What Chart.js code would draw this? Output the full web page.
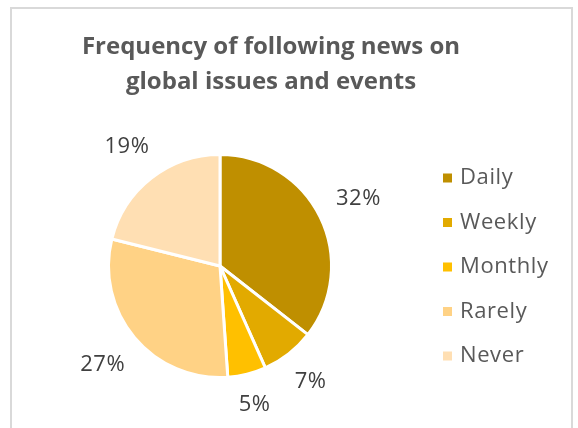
<!DOCTYPE html>
<html>
<head>
<meta charset="utf-8">
<script src="https://cdn.jsdelivr.net/npm/chart.js@4/dist/chart.umd.min.js"></script>
<style>
  html, body { margin: 0; padding: 0; background: #fff; overflow: hidden; }
  #frame {
    position: absolute; left: 10px; top: 7px; width: 563px; height: 440px;
    border: 2px solid #d9d9d9; box-sizing: border-box;
  }
  #myChart { position: absolute; left: 0; top: 0; }
</style>
</head>
<body>
<div id="frame"></div>
<canvas id="myChart" width="578" height="428"></canvas>
<script>
var categories = ['Daily', 'Weekly', 'Monthly', 'Rarely', 'Never'];
var shares = [32, 7, 5, 27, 19];
var sliceColors = ['#bf8f00', '#e2aa00', '#ffc000', '#ffd285', '#ffdfb3'];
var titleLines = ['Frequency of following news on', 'global issues and events'];

var FONT = "'Open Sans', 'Noto Sans', sans-serif";

// percentage labels placed just outside each slice
var outsideLabels = {
    id: 'outsideLabels',
    afterDatasetsDraw: function(chart) {
        var ctx = chart.ctx;
        var meta = chart.getDatasetMeta(0);
        ctx.save();
        ctx.font = '22px ' + FONT;
        ctx.letterSpacing = '0.5px';
        ctx.fillStyle = '#404040';
        ctx.textAlign = 'center';
        ctx.textBaseline = 'middle';
        meta.data.forEach(function(arc, i) {
            var p = arc.getProps(['x', 'y', 'startAngle', 'endAngle', 'outerRadius'], true);
            var mid = (p.startAngle + p.endAngle) / 2;
            var text = shares[i] + '%';
            var w = ctx.measureText(text).width;
            var h = 20;
            var cos = Math.cos(mid), sin = Math.sin(mid);
            var r = p.outerRadius + 18 + Math.abs(cos) * w / 2 + Math.abs(sin) * h / 2;
            ctx.fillText(text, p.x + cos * r, p.y + sin * r);
        });
        ctx.restore();
    }
};

// title and legend drawn beside the pie
var sideText = {
    id: 'sideText',
    afterDraw: function(chart) {
        var ctx = chart.ctx;
        ctx.save();
        ctx.fillStyle = '#595959';
        ctx.textAlign = 'center';
        ctx.textBaseline = 'middle';
        ctx.font = 'bold 24px ' + FONT;
        titleLines.forEach(function(line, i) {
            ctx.fillText(line, 271, 47 + i * 35);
        });

        ctx.font = '22px ' + FONT;
        ctx.letterSpacing = '0.6px';
        ctx.textAlign = 'left';
        chart.data.labels.forEach(function(label, i) {
            var y = 178 + i * 44.5;
            ctx.fillStyle = sliceColors[i];
            ctx.fillRect(443, y - 4.5, 9, 9);
            ctx.fillStyle = '#595959';
            ctx.fillText(label, 460, y);
        });
        ctx.restore();
    }
};

var ctx = document.getElementById('myChart').getContext('2d');
var myChart = new Chart(ctx, {
    type: 'pie',
    data: {
        labels: categories,
        datasets: [{
            data: shares,
            backgroundColor: sliceColors,
            borderColor: '#ffffff',
            borderWidth: 3
        }]
    },
    options: {
        responsive: false,
        animation: false,
        layout: {
            padding: { left: 107, right: 245, top: 153, bottom: 49 }
        },
        plugins: {
            legend: { display: false },
            title: { display: false },
            tooltip: { enabled: false }
        }
    },
    plugins: [outsideLabels, sideText]
});
</script>
</body>
</html>
